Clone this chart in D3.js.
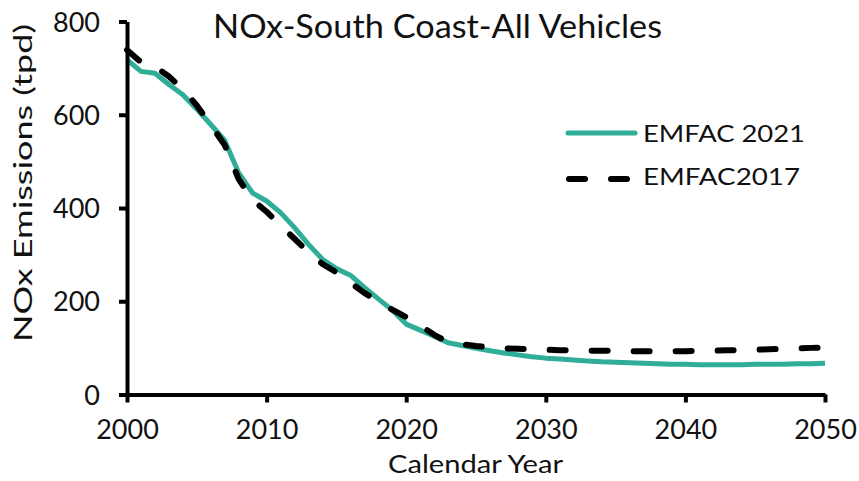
<!DOCTYPE html>
<html>
<head>
<meta charset="utf-8">
<script src="https://cdn.jsdelivr.net/npm/d3@7"></script>
<style>
html,body{margin:0;padding:0;background:#fff;}
svg{display:block;}
text{font-family:Lato,"Noto Sans",sans-serif;fill:#111;}
</style>
</head>
<body>
<svg id="chart" width="859" height="481"></svg>
<script>
const years = d3.range(2000, 2051);
const emfac2021 = [718,693,689,665,643,612,579,545,475,432,415,390,358,322,290,270,256,230,205,181,151,138,125,111,105,99,94,89,85,81,78,76,74,72,70,69,68,67,66,65,65,64,64,64,64,65,65,65,66,66,67];
const emfac2017 = [739,713,704,682,655,620,578,535,462,417,392,362,334,305,280,262,240,218,200,182,166,148,128,112,108,104,101,99,98,97,96,95,95,94,94,94,93,93,93,93,93,94,94,95,95,96,97,98,99,100,101];
const yTicks = [0,200,400,600,800];
const xTicks = [2000,2010,2020,2030,2040,2050];
const seriesNames = ["EMFAC 2021","EMFAC2017"];
const title = "NOx-South Coast-All Vehicles";
const xTitle = "Calendar Year";
const yTitle = "NOx Emissions (tpd)";

const svg = d3.select("#chart");
const x = d3.scaleLinear().domain([2000,2050]).range([127,825]);
const y = d3.scaleLinear().domain([0,800]).range([394.5,21.5]);
const teal = "#2fad98";

// title
svg.append("text").attr("x",437.5).attr("y",38).attr("text-anchor","middle")
  .style("font-size","32px").attr("textLength",449).attr("lengthAdjust","spacingAndGlyphs").text(title);

// lines
const line = d3.line().x((d,i)=>x(years[i])).y(d=>y(d));
svg.append("path").datum(emfac2021).attr("d",line).attr("fill","none")
  .attr("stroke",teal).attr("stroke-width",5).attr("stroke-linejoin","round");
svg.append("path").datum(emfac2017).attr("d",line).attr("fill","none")
  .attr("stroke","#000").attr("stroke-width",6).attr("stroke-dasharray","16 26")
  .attr("stroke-linecap","round").attr("stroke-linejoin","round");

// axes
const yAxis = svg.append("g").attr("transform",`translate(${x(2000)},0)`)
  .call(d3.axisLeft(y).tickValues(yTicks).tickSize(8).tickSizeOuter(0));
const xAxis = svg.append("g").attr("transform",`translate(0,${y(0)})`)
  .call(d3.axisBottom(x).tickValues(xTicks).tickFormat(d3.format("d")).tickSize(8).tickSizeOuter(0));
[yAxis,xAxis].forEach(g=>{
  g.select(".domain").attr("stroke","#000").attr("stroke-width",4);
  g.selectAll(".tick line").attr("stroke","#000").attr("stroke-width",4);
  g.selectAll(".tick text").style("font-size","27px").attr("fill","#111");
});
yAxis.selectAll(".tick text").attr("x",-27).attr("dy","0.36em");
xAxis.selectAll(".tick text").attr("y",44.5).attr("dy",null);

// axis titles
svg.append("text").attr("x",475.5).attr("y",473).attr("text-anchor","middle")
  .style("font-size","25px").attr("textLength",175).attr("lengthAdjust","spacingAndGlyphs").text(xTitle);
svg.append("text").attr("transform","translate(32,183) rotate(-90)").attr("text-anchor","middle")
  .style("font-size","25px").attr("textLength",318).attr("lengthAdjust","spacingAndGlyphs").text(yTitle);

// legend
const lg = svg.append("g");
lg.append("line").attr("x1",568).attr("x2",635).attr("y1",133).attr("y2",133)
  .attr("stroke",teal).attr("stroke-width",5).attr("stroke-linecap","round");
lg.append("text").attr("x",643).attr("y",142).style("font-size","24px")
  .attr("textLength",162).attr("lengthAdjust","spacingAndGlyphs").text(seriesNames[0]);
lg.append("line").attr("x1",569).attr("x2",627).attr("y1",179).attr("y2",179)
  .attr("stroke","#000").attr("stroke-width",6).attr("stroke-dasharray","16 26").attr("stroke-linecap","round");
lg.append("text").attr("x",643).attr("y",185).style("font-size","24px")
  .attr("textLength",157).attr("lengthAdjust","spacingAndGlyphs").text(seriesNames[1]);
</script>
</body>
</html>
